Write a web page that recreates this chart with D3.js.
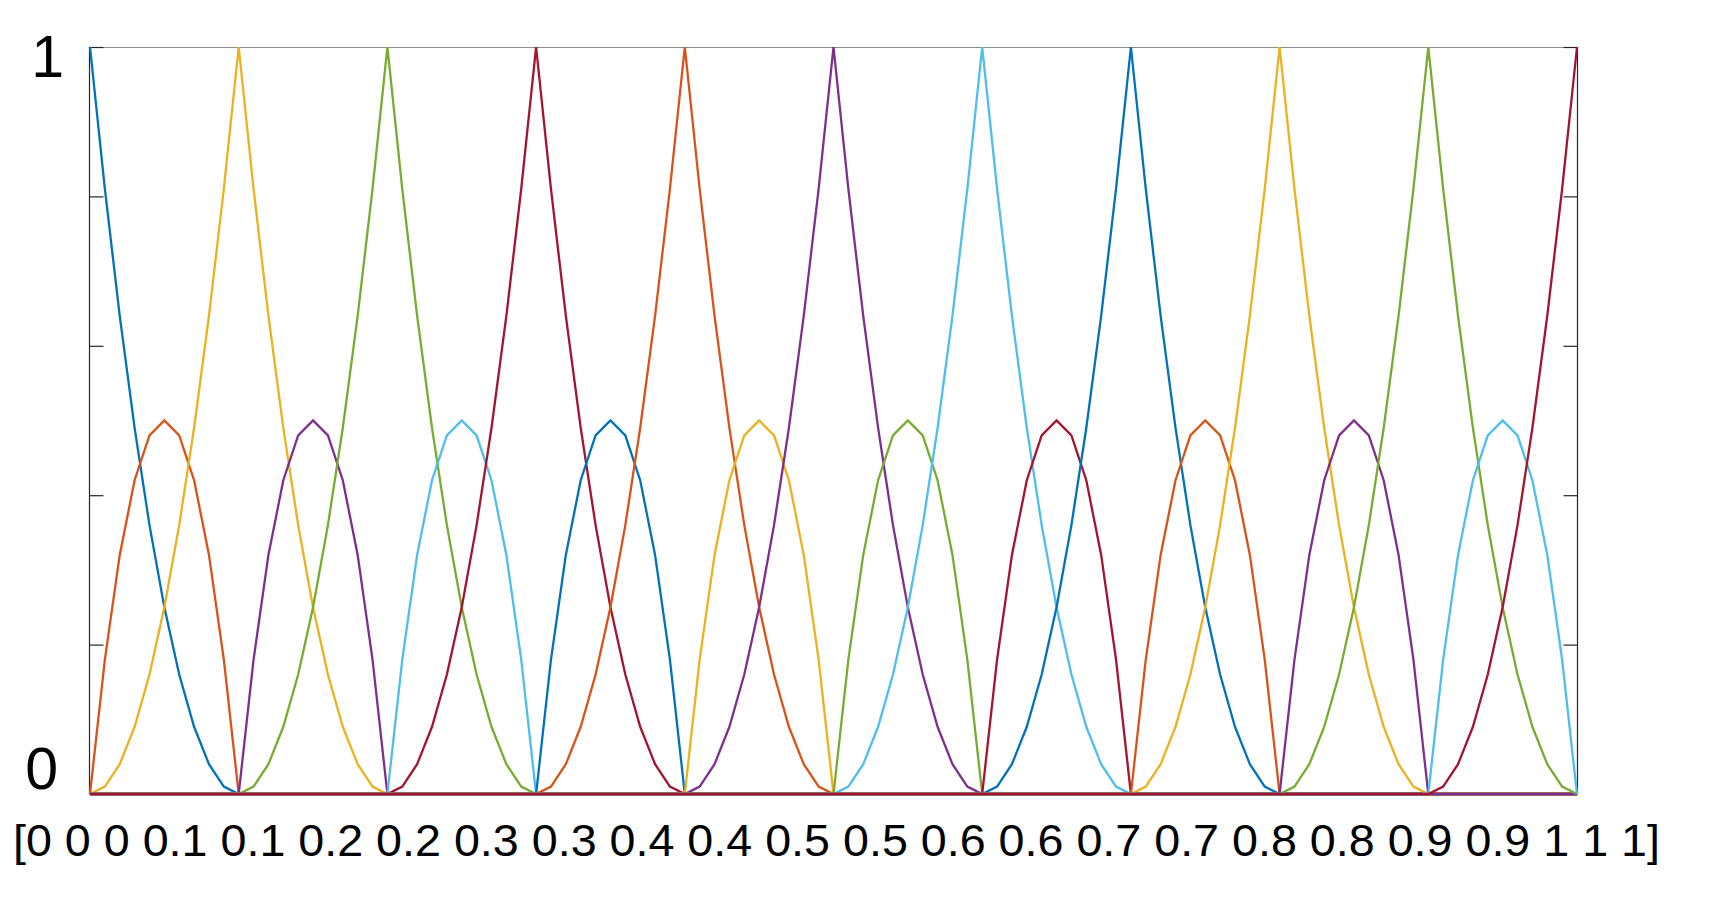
<!DOCTYPE html>
<html>
<head>
<meta charset="utf-8">
<script src="https://cdn.jsdelivr.net/npm/d3@7"></script>
<style>
  html, body { margin: 0; padding: 0; background: #fff; }
  svg { display: block; }
  text { font-family: "Liberation Sans", Arial, sans-serif; fill: #000; }
</style>
</head>
<body>
<svg id="chart" width="1719" height="897"></svg>
<script>
// ---------- data ----------
// knot vector shown as the x label
const knots = [0, 0, 0, 0.1, 0.1, 0.2, 0.2, 0.3, 0.3, 0.4, 0.4, 0.5, 0.5, 0.6, 0.6, 0.7, 0.7, 0.8, 0.8, 0.9, 0.9, 1, 1, 1];
// sampling step of the curves
const xStep = 0.01;
// start of the non-zero part of each basis function (x value)
const supportStart = [0, 0, 0, 0.1, 0.1, 0.2, 0.2, 0.3, 0.3, 0.4, 0.4, 0.5, 0.5, 0.6, 0.6, 0.7, 0.7, 0.8, 0.8, 0.9, 0.9];
// values of each basis function over its support
const firstPeak = [1, 0.81, 0.64, 0.49, 0.36, 0.25, 0.16, 0.09, 0.04, 0.01, 0];
const innerPeak = [0, 0.01, 0.04, 0.09, 0.16, 0.25, 0.36, 0.49, 0.64, 0.81, 1, 0.81, 0.64, 0.49, 0.36, 0.25, 0.16, 0.09, 0.04, 0.01, 0];
const bump      = [0, 0.18, 0.32, 0.42, 0.48, 0.5, 0.48, 0.42, 0.32, 0.18, 0];
const lastPeak  = [0, 0.01, 0.04, 0.09, 0.16, 0.25, 0.36, 0.49, 0.64, 0.81, 1];
const seriesValues = [
  firstPeak, bump, innerPeak, bump, innerPeak, bump, innerPeak, bump, innerPeak, bump, innerPeak,
  bump, innerPeak, bump, innerPeak, bump, innerPeak, bump, innerPeak, bump, lastPeak
];
const yTicks = [0, 0.2, 0.4, 0.6, 0.8, 1];
const yTickLabels = ["0", "", "", "", "", "1"];
const colors = ["#0072BD", "#D95319", "#EDB120", "#7E2F8E", "#77AC30", "#4DBEEE", "#A2142F"];

// ---------- layout ----------
const svg = d3.select("#chart");
const L = 90, R = 1577, T = 47, B = 794;
const x = d3.scaleLinear().domain([0, 1]).range([L, R]);
const y = d3.scaleLinear().domain([0, 1]).range([B, T]);

// axes box (drawn under data)
svg.append("line").attr("x1", L).attr("x2", R).attr("y1", T + 0.5).attr("y2", T + 0.5)
  .attr("stroke", "#8c8c8c").attr("stroke-width", 1.2);
svg.append("line").attr("x1", L).attr("x2", R).attr("y1", B).attr("y2", B)
  .attr("stroke", "#262626").attr("stroke-width", 1);
svg.append("line").attr("x1", L - 0.5).attr("x2", L - 0.5).attr("y1", T).attr("y2", B)
  .attr("stroke", "#262626").attr("stroke-width", 1.2);
svg.append("line").attr("x1", R + 0.5).attr("x2", R + 0.5).attr("y1", T).attr("y2", B)
  .attr("stroke", "#262626").attr("stroke-width", 1.2);

// y ticks, left and right, pointing inward
const leftAxis = d3.axisLeft(y).tickValues(yTicks).tickSize(-14).tickFormat("");
const rightAxis = d3.axisRight(y).tickValues(yTicks).tickSize(-14).tickFormat("");
const gl = svg.append("g").attr("transform", `translate(${L - 0.5},0)`).call(leftAxis);
const gr = svg.append("g").attr("transform", `translate(${R + 0.5},0)`).call(rightAxis);
[gl, gr].forEach(g => {
  g.select(".domain").remove();
  g.selectAll(".tick line").attr("stroke", "#262626").attr("stroke-width", 1.2);
});

// curves
const line = d3.line().x(d => x(d[0])).y(d => y(d[1]));
seriesValues.forEach((vals, i) => {
  const s = supportStart[i];
  const pts = [];
  if (s > 0) pts.push([0, 0]);
  vals.forEach((v, k) => pts.push([s + k * xStep, v]));
  const e = s + (vals.length - 1) * xStep;
  if (e < 1 - 1e-9) pts.push([1, 0]);
  svg.append("path")
    .attr("d", line(pts))
    .attr("fill", "none")
    .attr("stroke", colors[i % colors.length])
    .attr("stroke-width", 2.3)
    .attr("stroke-linejoin", "miter");
});

// y tick labels
yTicks.forEach((t, i) => {
  if (!yTickLabels[i]) return;
  svg.append("text")
    .attr("x", t === 1 ? 64 : 58)
    .attr("y", t === 1 ? y(t) + 30 : y(t) - 5)
    .attr("text-anchor", "end")
    .attr("font-size", 59)
    .text(yTickLabels[i]);
});

// x label: knot vector
const labelText = "[" + knots.join(" ") + "]";
svg.append("text")
  .attr("x", 13)
  .attr("y", 856)
  .attr("font-size", 44)
  .attr("textLength", 1647)
  .attr("lengthAdjust", "spacingAndGlyphs")
  .text(labelText);
</script>
</body>
</html>
